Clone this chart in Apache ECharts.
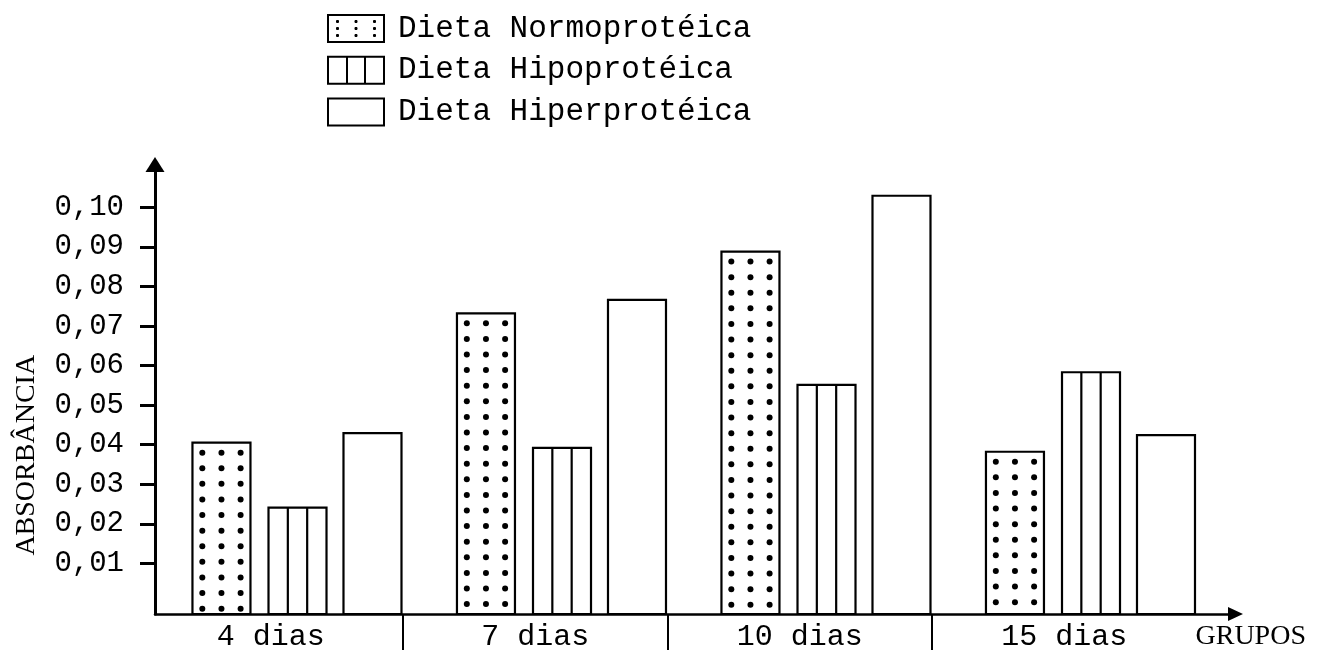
<!DOCTYPE html>
<html>
<head>
<meta charset="utf-8">
<script src="https://cdn.jsdelivr.net/npm/echarts@6/dist/echarts.min.js"></script>
<style>html,body{margin:0;padding:0;background:#fff;}#chart{width:1320px;height:656px;}</style>
</head>
<body>
<div id="chart"></div>
<script>
// ---- data ----
const CATEGORIES = ['4 dias', '7 dias', '10 dias', '15 dias'];
const SERIES_NAMES = ['Dieta Normoprotéica', 'Dieta Hipoprotéica', 'Dieta Hiperprotéica'];
const NORMO = [0.0405, 0.0732, 0.0888, 0.0382];
const HIPO = [0.0241, 0.0392, 0.0551, 0.0583];
const HIPER = [0.0429, 0.0766, 0.1029, 0.0424];
const Y_TICKS = [0.01, 0.02, 0.03, 0.04, 0.05, 0.06, 0.07, 0.08, 0.09, 0.10];
const Y_NAME = 'ABSORBÂNCIA';
const X_NAME = 'GRUPOS';

// ---- axis range / layout ----
const Y_MIN = -0.0028, Y_MAX = 0.1108;
const SLOT_START = [0.204, 0.4915, 0.775];
const BAR_WIDTH = 0.2193;
const MONO = '"Liberation Mono", "DejaVu Sans Mono", monospace';
const SERIF = '"Liberation Serif", "DejaVu Serif", serif';

function barRenderer(kind, slot) {
  return function (params, api) {
    const i = api.value(0), v = api.value(1);
    const top = api.coord([i, v]);
    const base = api.coord([i, Y_MIN]);
    const band = api.size([1, 0])[0];
    const x0 = top[0] - band / 2 + band * SLOT_START[slot];
    const w = band * BAR_WIDTH;
    const h = base[1] - top[1];
    const children = [{
      type: 'rect', shape: { x: x0, y: top[1], width: w, height: h },
      style: { fill: '#fff', stroke: '#000', lineWidth: 2.2 }
    }];
    if (kind === 'dots') {
      for (let y = top[1] + 10; y < base[1] - 5; y += 15.6) {
        [0.17, 0.5, 0.83].forEach(f => children.push({
          type: 'circle', shape: { cx: x0 + w * f, cy: y, r: 3 }, style: { fill: '#000' }
        }));
      }
    } else if (kind === 'stripes') {
      [1 / 3, 2 / 3].forEach(f => children.push({
        type: 'line', shape: { x1: x0 + w * f, y1: top[1], x2: x0 + w * f, y2: base[1] },
        style: { stroke: '#000', lineWidth: 2.2 }
      }));
    }
    return { type: 'group', children: children };
  };
}

function seriesData(vals) { return vals.map((v, i) => [i, v]); }

function dotPath(x, y) { return ' M' + (x - 1.5) + ',' + y + 'H' + (x + 1.5) + ' M' + x + ',' + (y - 1.5) + 'V' + (y + 1.5); }
let ICON_DOTS = 'path://M0,0H56V27H0Z';
[6.5, 13.5, 20.5].forEach(y => [9.5, 28, 46.5].forEach(x => { ICON_DOTS += dotPath(x, y); }));
const ICON_STRIPES = 'path://M0,0H56V27H0Z M19,0V27 M37,0V27';
const ICON_PLAIN = 'path://M0,0H56V27H0Z';

const chart = echarts.init(document.getElementById('chart'), null, { renderer: 'canvas' });
chart.setOption({
  backgroundColor: '#fff',
  animation: false,
  legend: {
    orient: 'vertical', left: 327, top: 13, padding: 0,
    itemWidth: 56, itemHeight: 27, itemGap: 10.7,
    selectedMode: false,
    itemStyle: { color: '#fff', borderColor: '#000', borderWidth: 2 },
    textStyle: { fontFamily: MONO, fontSize: 31, color: '#000', padding: [0, 0, 0, 9] },
    data: [
      { name: SERIES_NAMES[0], icon: ICON_DOTS },
      { name: SERIES_NAMES[1], icon: ICON_STRIPES },
      { name: SERIES_NAMES[2], icon: ICON_PLAIN }
    ]
  },
  grid: [
    { left: 155, right: 84.5, top: 164.5, bottom: 42 },
    { left: 138.5, width: 1058, top: 164.5, bottom: 42 },
    { left: 403, width: 529, top: 164.5, bottom: 42 }
  ],
  xAxis: [
    {
      gridIndex: 0, type: 'value', min: 0, max: 1,
      axisLine: { onZero: false, symbol: ['none', 'triangle'], symbolSize: [14, 15], lineStyle: { color: '#000', width: 2.5 } },
      axisTick: { show: false }, axisLabel: { show: false }, splitLine: { show: false },
      name: X_NAME, nameLocation: 'end', nameGap: -40,
      nameTextStyle: { fontFamily: SERIF, fontSize: 28, color: '#000', verticalAlign: 'top', align: 'left', padding: [9, 0, 0, 0] }
    },
    {
      gridIndex: 1, type: 'category', data: CATEGORIES,
      axisLine: { show: false, onZero: false }, axisTick: { show: false }, splitLine: { show: false },
      axisLabel: { fontFamily: MONO, fontSize: 30, color: '#000', margin: 8, interval: 0 }
    },
    {
      gridIndex: 2, type: 'category', data: ['a', 'b', 'c'], boundaryGap: false,
      axisLine: { show: false, onZero: false }, axisLabel: { show: false }, splitLine: { show: false },
      axisTick: { show: true, interval: 0, length: 36, lineStyle: { color: '#000', width: 2 } }
    }
  ],
  yAxis: [
    {
      gridIndex: 0, type: 'value', min: Y_MIN, max: Y_MAX,
      axisLine: { show: true, onZero: false, symbol: ['none', 'triangle'], symbolSize: [19, 15], lineStyle: { color: '#000', width: 3 } },
      axisTick: { show: true, customValues: Y_TICKS, length: 15, lineStyle: { color: '#000', width: 3 } },
      axisLabel: {
        customValues: Y_TICKS, margin: 31, fontFamily: MONO, fontSize: 29, color: '#000',
        formatter: v => v.toFixed(2).replace('.', ',')
      },
      splitLine: { show: false },
      name: Y_NAME, nameLocation: 'middle', nameRotate: 90, nameGap: 114,
      nameTextStyle: { fontFamily: SERIF, fontSize: 28, color: '#000', padding: [0, 132, 0, 0] }
    },
    { gridIndex: 1, type: 'value', min: Y_MIN, max: Y_MAX, show: false },
    { gridIndex: 2, type: 'value', min: 0, max: 1, show: false }
  ],
  series: [
    {
      name: SERIES_NAMES[0], type: 'custom', xAxisIndex: 1, yAxisIndex: 1,
      encode: { x: 0, y: 1 }, itemStyle: { color: '#fff', borderColor: '#000' },
      renderItem: barRenderer('dots', 0), data: seriesData(NORMO)
    },
    {
      name: SERIES_NAMES[1], type: 'custom', xAxisIndex: 1, yAxisIndex: 1,
      encode: { x: 0, y: 1 }, itemStyle: { color: '#fff', borderColor: '#000' },
      renderItem: barRenderer('stripes', 1), data: seriesData(HIPO)
    },
    {
      name: SERIES_NAMES[2], type: 'custom', xAxisIndex: 1, yAxisIndex: 1,
      encode: { x: 0, y: 1 }, itemStyle: { color: '#fff', borderColor: '#000' },
      renderItem: barRenderer('plain', 2), data: seriesData(HIPER)
    }
  ]
});
</script>
</body>
</html>
